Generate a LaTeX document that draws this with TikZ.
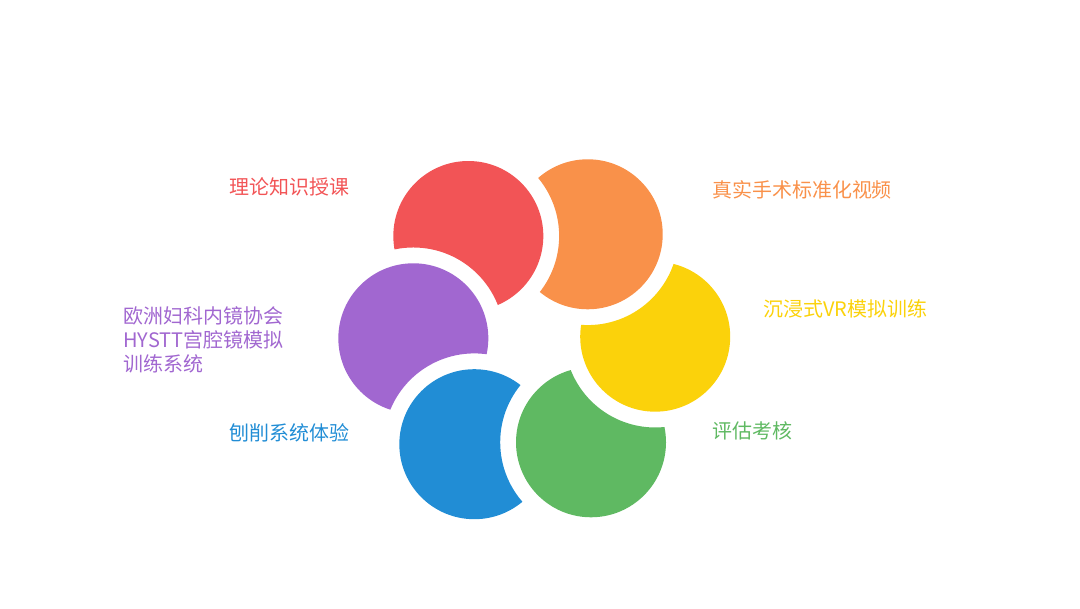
\documentclass[tikz,border=0pt]{standalone}
\usepackage{fontspec}
\newfontfamily\cjk{Noto Sans CJK SC}
\definecolor{redc}{HTML}{F25456}
\definecolor{orangec}{HTML}{F9914A}
\definecolor{yellowc}{HTML}{FBD20B}
\definecolor{greenc}{HTML}{5FB962}
\definecolor{bluec}{HTML}{218DD5}
\definecolor{purplec}{HTML}{A167D0}
\begin{document}
\begin{tikzpicture}
\tikzstyle{every node}=[inner sep=0pt,font=\cjk\fontsize{14.2}{17}\selectfont];
\tikzstyle{label}=[anchor=west,align=left];
\useasboundingbox (0,0) rectangle (27,15.2);
\coordinate (R) at (11.708,9.30);
\coordinate (O) at (14.693,9.343);
\coordinate (Y) at (16.38,6.783);
\coordinate (G) at (14.775,4.143);
\coordinate (B) at (11.858,4.095);
\coordinate (P) at (10.333,6.743);
% each circle is cut by the one lying on it
\begin{scope}
\clip (R) circle (1.875);
\fill[redc,even odd rule] (R) circle (2.1) (P) circle (2.27);
\end{scope}
\begin{scope}
\clip (O) circle (1.875);
\fill[orangec,even odd rule] (O) circle (2.1) (R) circle (2.27);
\end{scope}
\begin{scope}
\clip (Y) circle (1.875);
\fill[yellowc,even odd rule] (Y) circle (2.1) (O) circle (2.27);
\end{scope}
\begin{scope}
\clip (G) circle (1.875);
\fill[greenc,even odd rule] (G) circle (2.1) (Y) circle (2.27);
\end{scope}
\begin{scope}
\clip (B) circle (1.875);
\fill[bluec,even odd rule] (B) circle (2.1) (G) circle (2.27);
\end{scope}
\begin{scope}
\clip (P) circle (1.875);
\fill[purplec,even odd rule] (P) circle (2.1) (B) circle (2.27);
\end{scope}
\node (LR) [label,text=redc] at (5.725,10.525) {理论知识授课};
\node (LO) [label,text=orangec] at (17.8,10.45) {真实手术标准化视频};
\node (LY) [label,text=yellowc] at (19.075,7.475) {沉浸式VR模拟训练};
\node (LG) [label,text=greenc] at (17.8,4.425) {评估考核};
\node (LP) [label,text=purplec] at (3.075,6.71) {欧洲妇科内镜协会\\HYSTT宫腔镜模拟\\训练系统};
\node (LB) [label,text=bluec] at (5.725,4.375) {刨削系统体验};
\end{tikzpicture}
\end{document}
